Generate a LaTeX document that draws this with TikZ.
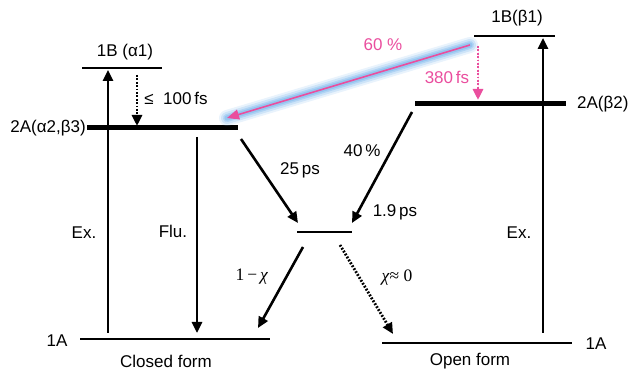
\documentclass[tikz,border=0pt]{standalone}
\usepackage{fontspec}
\setmainfont{Liberation Sans}
\newfontfamily\serifm{Liberation Serif}
\usetikzlibrary{arrows.meta}
\definecolor{pinkc}{RGB}{234,78,158}
\definecolor{glowc}{RGB}{110,175,235}
\tikzset{
  lvl/.style={line width=2pt},
  thicklvl/.style={line width=5pt},
  arr/.style={line width=2.6pt,-{Triangle[length=11pt,width=10pt]}},
  dotarr/.style={line width=2.8pt,dash pattern=on 1.8pt off 1.6pt,-{Triangle[length=11pt,width=10pt]}},
  lbl/.style={inner sep=0pt,font=\fontsize{17}{19}\selectfont},
  mlbl/.style={inner sep=0pt,font=\serifm\fontsize{17.5}{19}\selectfont},
}
\begin{document}
\begin{tikzpicture}[x=1pt,y=-1pt]
\useasboundingbox (0,0) rectangle (630,371);
% levels coordinates
\coordinate (bAl) at (82,68);   \coordinate (bAr) at (162,68);
\coordinate (aAl) at (87,128);  \coordinate (aAr) at (238,128);
\coordinate (gLl) at (80,339);  \coordinate (gLr) at (270,339);
\coordinate (mL) at (297,232);  \coordinate (mR) at (352,232);
\coordinate (bBl) at (474,36);  \coordinate (bBr) at (555,36);
\coordinate (aBl) at (415,104); \coordinate (aBr) at (566,104);
\coordinate (gRl) at (382,343); \coordinate (gRr) at (572,343);
% level lines
\draw[lvl] (bAl) -- (bAr);
\draw[thicklvl] (aAl) -- (aAr);
\draw[lvl] (gLl) -- (gLr);
\draw[lvl] (mL) -- (mR);
\draw[lvl] (bBl) -- (bBr);
\draw[thicklvl] (aBl) -- (aBr);
\draw[lvl] (gRl) -- (gRr);
% labels
\node[lbl] (t1) at (125,52) {1B (α1)};
\node[lbl,anchor=east] (t2) at (86,128) {2A(α2,β3)};
\node[lbl] (t3) at (57,341) {1A};
\node[lbl] (t4) at (166,361) {Closed form};
\node[lbl] (t5) at (517,18) {1B(β1)};
\node[lbl,anchor=west] (t6) at (577,104) {2A(β2)};
\node[lbl] (t7) at (596,344) {1A};
\node[lbl] (t8) at (470,361) {Open form};
\node[lbl] (t9) at (84,233) {Ex.};
\node[lbl] (t10) at (173,231) {Flu.};
\node[lbl] (t11) at (519,233) {Ex.};
\node[lbl] (t12) at (176,98) {≤\ \ 100\,fs};
\node[lbl] (t13) at (300,170) {25\,ps};
\node[lbl] (t14) at (362,151) {40\,\%};
\node[lbl] (t15) at (395,212) {1.9\,ps};
\node[mlbl] (t16) at (252,277) {1\,−\,\textit{χ}};
\node[mlbl] (t17) at (397,278) {\textit{χ}≈\ 0};
\node[lbl,text=pinkc] (t18) at (383,45) {60 \%};
\node[lbl,text=pinkc] (t19) at (447,77) {380\,fs};
% vertical arrows
\coordinate (exLb) at (108,333); \coordinate (exLt) at (108,70);
\coordinate (flt) at (197,137);  \coordinate (flb) at (197,333);
\coordinate (dLt) at (137,75);   \coordinate (dLb) at (137,126);
\coordinate (exRb) at (543,333); \coordinate (exRt) at (543,38);
\coordinate (dRt) at (478,46);   \coordinate (dRb) at (478,100);
\draw[arr] (exLb) -- (exLt);
\draw[arr] (flt) -- (flb);
\draw[dotarr] (dLt) -- (dLb);
\draw[arr] (exRb) -- (exRt);
\draw[dotarr,draw=pinkc,fill=pinkc] (dRt) -- (dRb);
% diagonal arrows
\coordinate (s25) at (241,139); \coordinate (e25) at (298,223);
\coordinate (s19) at (412,112); \coordinate (e19) at (352,223);
\coordinate (s1x) at (303,247); \coordinate (e1x) at (258,328);
\coordinate (sx0) at (340,245); \coordinate (ex0) at (393,334);
\draw[arr] (s25) -- (e25);
\draw[arr] (s19) -- (e19);
\draw[arr] (s1x) -- (e1x);
\draw[dotarr] (sx0) -- (ex0);
% pink glowing arrow
\coordinate (ps) at (470,45); \coordinate (pe) at (227,118);
\draw[glowc,opacity=0.15,line width=16pt,line cap=round] (ps) -- (pe);
\draw[glowc,opacity=0.22,line width=12pt,line cap=round] (ps) -- (pe);
\draw[glowc,opacity=0.32,line width=8pt,line cap=round] (ps) -- (pe);
\draw[glowc,opacity=0.4,line width=5pt,line cap=round] (ps) -- (pe);
\draw[pinkc,line width=1.6pt,-{Triangle[length=12pt,width=10pt]}] (ps) -- (pe);
\end{tikzpicture}
\end{document}
